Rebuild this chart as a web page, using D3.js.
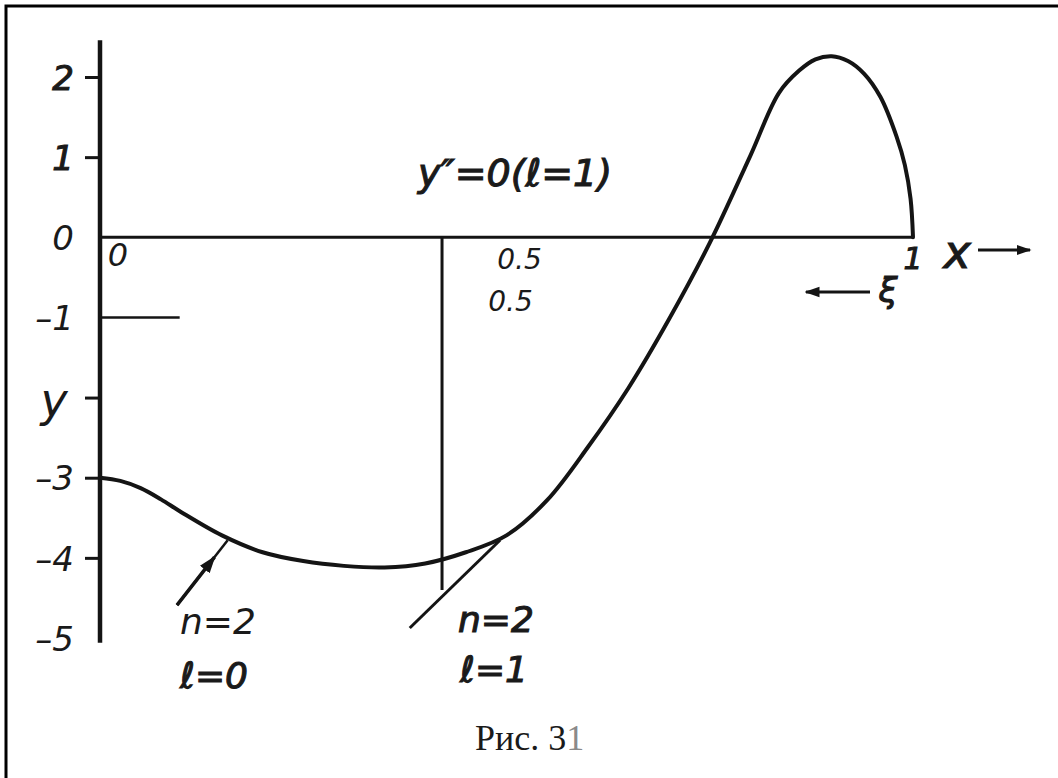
<!DOCTYPE html>
<html>
<head>
<meta charset="utf-8">
<script src="https://cdn.jsdelivr.net/npm/d3@7"></script>
<style>
  html, body { margin: 0; padding: 0; background: #fff; }
  svg { display: block; }
  .hand { font-family: "DejaVu Sans", "Liberation Sans", sans-serif; font-style: italic; font-weight: normal; fill: #1a1a1a; }
  .heavy { stroke: #1a1a1a; stroke-width: 1.1; }
  .cap { font-family: "Liberation Serif", "DejaVu Serif", serif; fill: #1a1a1a; }
</style>
</head>
<body>
<script>
// Solution curve y(x) for n = 2
const curveX = [0, 0.025, 0.05, 0.075, 0.10, 0.15, 0.20, 0.25, 0.30, 0.35, 0.40, 0.45, 0.50, 0.55, 0.60, 0.65,
                0.70, 0.75, 0.80, 0.835, 0.86, 0.88, 0.90, 0.92, 0.94, 0.96, 0.98, 0.99, 0.997, 1.0];
const curveY = [-3.0, -3.04, -3.13, -3.27, -3.43, -3.72, -3.93, -4.04, -4.10, -4.12, -4.07, -3.93, -3.72, -3.28, -2.62, -1.88,
                -1.02, -0.07, 1.02, 1.80, 2.08, 2.22, 2.26, 2.20, 2.04, 1.75, 1.25, 0.90, 0.48, 0];

// Y tick marks and labels
const yTickMarks = [2, 1, -2, -3, -4];
const yTickLabels = [2, 1, 0, -1, -3, -4, -5];

// Matching point x* and the l = 1 tangent line
const matchX = 0.4207;
const matchBottom = -4.4;
const tangentX = [0.381, 0.492];
const tangentY = [-4.875, -3.78];

// Pointer to the l = 0 branch
const pointerX = [0.0947, 0.157];
const pointerY = [-4.59, -3.78];

// Short reference segment at y = -1
const refX = [0, 0.098];
const refY = -1;

const W = 1058, H = 778;
const svg = d3.select("body").append("svg").attr("width", W).attr("height", H);

const x = d3.scaleLinear().domain([0, 1]).range([100, 913]);
const y = d3.scaleLinear().domain([-5, 2]).range([638, 77]);

const ink = "#141414";

// page frame (left and top edges)
svg.append("path")
  .attr("d", `M6,${H} L6,6 L${W},6`)
  .attr("fill", "none").attr("stroke", "#000").attr("stroke-width", 3);

// arrowheads
const defs = svg.append("defs");
defs.append("marker").attr("id", "head")
  .attr("viewBox", "0 0 10 10").attr("refX", 9).attr("refY", 5)
  .attr("markerWidth", 5).attr("markerHeight", 5).attr("orient", "auto")
  .attr("markerUnits", "strokeWidth")
  .append("path").attr("d", "M0,1.5 L10,5 L0,8.5 Z").attr("fill", ink);

// y axis line
svg.append("line")
  .attr("x1", x(0)).attr("x2", x(0))
  .attr("y1", y(2.46)).attr("y2", y(-5.06))
  .attr("stroke", ink).attr("stroke-width", 4.5);

// y tick marks (to the left of the axis)
const tickAxis = d3.axisLeft(y).tickValues(yTickMarks).tickSize(15).tickFormat("");
const gt = svg.append("g").attr("transform", `translate(${x(0)},0)`).call(tickAxis);
gt.select(".domain").remove();
gt.selectAll(".tick line").attr("stroke", ink).attr("stroke-width", 3);

// y tick labels
const labelAxis = d3.axisLeft(y).tickValues(yTickLabels).tickSize(0).tickPadding(26)
  .tickFormat(d => d < 0 ? "\u2013" + Math.abs(d) : String(d));
const gl = svg.append("g").attr("transform", `translate(${x(0)},0)`).call(labelAxis);
gl.select(".domain").remove();
gl.selectAll(".tick text")
  .attr("class", d => d > 0 ? "hand heavy" : "hand")
  .attr("font-size", 34)
  .attr("dy", "0.36em")
  .style("font-family", "DejaVu Sans, sans-serif")
  .style("font-style", "italic")
  .attr("fill", d => d > 0 ? "#111" : "#333");

// y axis name
svg.append("text").attr("class", "hand")
  .attr("x", x(0) - 46).attr("y", y(-2) + 18)
  .attr("text-anchor", "middle").attr("font-size", 46).text("y");

// x axis
svg.append("line")
  .attr("x1", x(0)).attr("x2", x(1))
  .attr("y1", y(0)).attr("y2", y(0))
  .attr("stroke", ink).attr("stroke-width", 3);

// reference segment at y = -1
svg.append("line")
  .attr("x1", x(refX[0])).attr("x2", x(refX[1]))
  .attr("y1", y(refY)).attr("y2", y(refY))
  .attr("stroke", ink).attr("stroke-width", 2.5);

// vertical line at the matching point
svg.append("line")
  .attr("x1", x(matchX)).attr("x2", x(matchX))
  .attr("y1", y(0)).attr("y2", y(matchBottom))
  .attr("stroke", ink).attr("stroke-width", 3);

// tangent for l = 1
svg.append("line")
  .attr("x1", x(tangentX[0])).attr("x2", x(tangentX[1]))
  .attr("y1", y(tangentY[0])).attr("y2", y(tangentY[1]))
  .attr("stroke", ink).attr("stroke-width", 3);

// main curve
const line = d3.line().x(d => x(d[0])).y(d => y(d[1])).curve(d3.curveCatmullRom.alpha(0.5));
svg.append("path")
  .datum(d3.zip(curveX, curveY))
  .attr("d", line)
  .attr("fill", "none").attr("stroke", ink).attr("stroke-width", 4)
  .attr("stroke-linejoin", "round").attr("stroke-linecap", "round");

// pointer to the l = 0 branch: thin line with a filled head short of the curve
svg.append("line")
  .attr("x1", x(pointerX[0])).attr("x2", x(pointerX[1]))
  .attr("y1", y(pointerY[0])).attr("y2", y(pointerY[1]))
  .attr("stroke", ink).attr("stroke-width", 2.5);
const headT = 0.74;
svg.append("line")
  .attr("x1", x(pointerX[0])).attr("y1", y(pointerY[0]))
  .attr("x2", x(pointerX[0] + (pointerX[1] - pointerX[0]) * headT))
  .attr("y2", y(pointerY[0] + (pointerY[1] - pointerY[0]) * headT))
  .attr("stroke", ink).attr("stroke-width", 3.5)
  .attr("marker-end", "url(#head)");

// x axis labels
svg.append("text").attr("class", "hand").attr("x", x(0) + 18).attr("y", y(0) + 29)
  .attr("text-anchor", "middle").attr("font-size", 32).attr("fill", "#333").text("0");
svg.append("text").attr("class", "hand").attr("x", x(0.5) + 13).attr("y", y(0) + 32)
  .attr("text-anchor", "middle").attr("font-size", 28).text("0.5");
svg.append("text").attr("class", "hand").attr("x", x(0.5) + 4).attr("y", y(0) + 74)
  .attr("text-anchor", "middle").attr("font-size", 28).attr("fill", "#333").text("0.5");
svg.append("text").attr("class", "hand heavy").attr("x", x(1)).attr("y", y(0) + 32)
  .attr("text-anchor", "middle").attr("font-size", 30).text("1");
svg.append("text").attr("class", "hand heavy").attr("x", 957).attr("y", y(0) + 31)
  .attr("text-anchor", "middle").attr("font-size", 46).text("x");
svg.append("line").attr("x1", 978).attr("x2", 1030).attr("y1", 250).attr("y2", 250)
  .attr("stroke", ink).attr("stroke-width", 3).attr("marker-end", "url(#head)");

// reversed coordinate ξ
svg.append("line").attr("x1", 870).attr("x2", 806).attr("y1", 292).attr("y2", 292)
  .attr("stroke", ink).attr("stroke-width", 3).attr("marker-end", "url(#head)");
svg.append("text").attr("class", "hand heavy").attr("x", 888).attr("y", 302)
  .attr("text-anchor", "middle").attr("font-size", 34).text("ξ");

// boundary condition note
svg.append("text").attr("class", "hand heavy").attr("x", 515).attr("y", 186)
  .attr("text-anchor", "middle").attr("font-size", 38).text("y\u2033=0(\u2113=1)");

// branch labels
svg.append("text").attr("class", "hand").attr("x", 218).attr("y", 634)
  .attr("text-anchor", "middle").attr("font-size", 36).text("n=2");
svg.append("text").attr("class", "hand heavy").attr("x", 214).attr("y", 688)
  .attr("text-anchor", "middle").attr("font-size", 36).text("\u2113=0");
svg.append("text").attr("class", "hand heavy").attr("x", 496).attr("y", 632)
  .attr("text-anchor", "middle").attr("font-size", 36).text("n=2");
svg.append("text").attr("class", "hand heavy").attr("x", 494).attr("y", 682)
  .attr("text-anchor", "middle").attr("font-size", 36).text("\u2113=1");

// caption
const cap = svg.append("text").attr("class", "cap").attr("x", 475).attr("y", 750)
  .attr("font-size", 36);
cap.append("tspan").text("Рис. 3");
cap.append("tspan").attr("fill", "#8a8a8a").text("1");
</script>
</body>
</html>
